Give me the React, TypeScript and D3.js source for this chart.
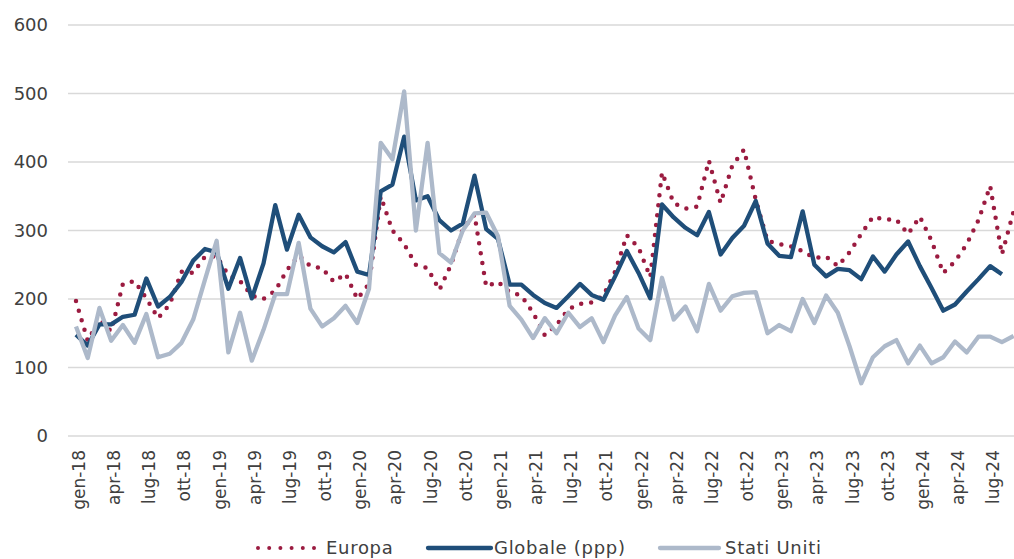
import React from "react";
import * as d3 from "d3";

// monthly series, gen-18 .. set-24
const europa = [
  197, 139, 170, 153, 222, 226, 201, 172, 192, 240, 238, 262,
  262, 235, 226, 205, 200, 212, 242, 264, 248, 245, 225, 237,
  200, 222, 350, 300, 280, 250, 245, 213, 250, 302, 323, 218,
  225, 210, 205, 180, 147, 162, 185, 193, 195, 205, 240, 293,
  275, 232, 385, 340, 332, 335, 402, 340, 395, 418, 345, 285,
  280, 277, 270, 260, 262, 248, 268, 295, 320, 316, 316, 295,
  320, 285, 238, 255, 280, 315, 365, 265, 328,
];

const globale = [
  148, 132, 163, 163, 174, 177, 230, 189, 203, 225, 256, 273,
  268, 215, 260, 201, 252, 337, 272, 323, 290, 277, 268, 283,
  240, 235, 357, 367, 437, 344, 350, 315, 300, 310, 380, 302,
  288, 221, 221, 206, 194, 187, 204, 222, 206, 199, 233, 270,
  238, 201, 338, 319, 304, 293, 327, 265, 289, 307, 343, 281,
  263, 261, 328, 250, 233, 244, 242, 229, 262, 240, 265, 284,
  248, 216, 183, 192, 211, 229, 248, 236,
];

const statiUniti = [
  160, 114, 187, 139, 162, 136, 178, 115, 120, 136, 170, 228,
  285, 122, 180, 110, 155, 207, 207, 282, 186, 160, 172, 190,
  165, 215, 428, 404, 503, 300, 428, 267, 253, 300, 325, 326,
  292, 190, 170, 143, 172, 150, 180, 159, 172, 137, 176, 203,
  157, 140, 231, 170, 189, 153, 222, 183, 204, 209, 210, 150,
  162, 153, 200, 165, 205, 180, 131, 77, 115, 131, 140, 106,
  132, 106, 115, 138, 122, 145, 145, 137, 146,
];

const tickLabels = [
  "gen-18", "apr-18", "lug-18", "ott-18",
  "gen-19", "apr-19", "lug-19", "ott-19",
  "gen-20", "apr-20", "lug-20", "ott-20",
  "gen-21", "apr-21", "lug-21", "ott-21",
  "gen-22", "apr-22", "lug-22", "ott-22",
  "gen-23", "apr-23", "lug-23", "ott-23",
  "gen-24", "apr-24", "lug-24",
];

const yTicks = [0, 100, 200, 300, 400, 500, 600];

const W = 1014;
const H = 559;
const font = "'DejaVu Sans', Verdana, sans-serif";
const textColor = "#404040";

export default function App() {
  const x = d3.scaleLinear().domain([0, 80]).range([76, 1013.6]);
  const y = d3.scaleLinear().domain([0, 600]).range([436, 25]);

  const line = d3
    .line<number>()
    .x((_, i) => x(i))
    .y((d) => y(d));

  const legend = [
    { name: "Europa", x0: 258, x1: 316, tx: 326, color: "#9B1B40", dotted: true },
    { name: "Globale (ppp)", x0: 428, x1: 491, tx: 494, color: "#1F4E79", dotted: false },
    { name: "Stati Uniti", x0: 660, x1: 719, tx: 725, color: "#ADB9CA", dotted: false },
  ];

  return (
    <svg
      width={W}
      height={H}
      style={{ position: "absolute", left: 0, top: 0, background: "#fff" }}
      fontFamily={font}
    >
      {/* grid + y labels */}
      {yTicks.map((t) => (
        <g key={t}>
          <line x1={68} x2={W} y1={y(t)} y2={y(t)} stroke="#d9d9d9" strokeWidth={1.5} />
          <text
            x={48}
            y={y(t)}
            dy="0.36em"
            textAnchor="end"
            fontSize={18}
            fill={textColor}
          >
            {t}
          </text>
        </g>
      ))}

      {/* x labels */}
      {tickLabels.map((lab, k) => {
        const px = x(k * 3) + 3;
        return (
          <text
            key={lab}
            transform={`translate(${px},450) rotate(-90)`}
            textAnchor="end"
            dominantBaseline="central"
            fontSize={17}
            fill={textColor}
          >
            {lab}
          </text>
        );
      })}

      {/* series */}
      <path
        d={line(europa) ?? ""}
        fill="none"
        stroke="#9B1B40"
        strokeWidth={4.5}
        strokeDasharray="0 10"
        strokeLinecap="round"
      />
      <path
        d={line(globale) ?? ""}
        fill="none"
        stroke="#1F4E79"
        strokeWidth={4.3}
        strokeLinejoin="round"
      />
      <path
        d={line(statiUniti) ?? ""}
        fill="none"
        stroke="#ADB9CA"
        strokeWidth={4.3}
        strokeLinejoin="round"
      />

      {/* legend */}
      {legend.map((l) => (
        <g key={l.name}>
          <line
            x1={l.x0}
            x2={l.x1}
            y1={548}
            y2={548}
            stroke={l.color}
            strokeWidth={l.dotted ? 4 : 4.3}
            strokeDasharray={l.dotted ? "0 11.2" : undefined}
            strokeLinecap="round"
          />
          <text x={l.tx} y={554} fontSize={18} letterSpacing={0.7} fill={textColor}>
            {l.name}
          </text>
        </g>
      ))}
    </svg>
  );
}
